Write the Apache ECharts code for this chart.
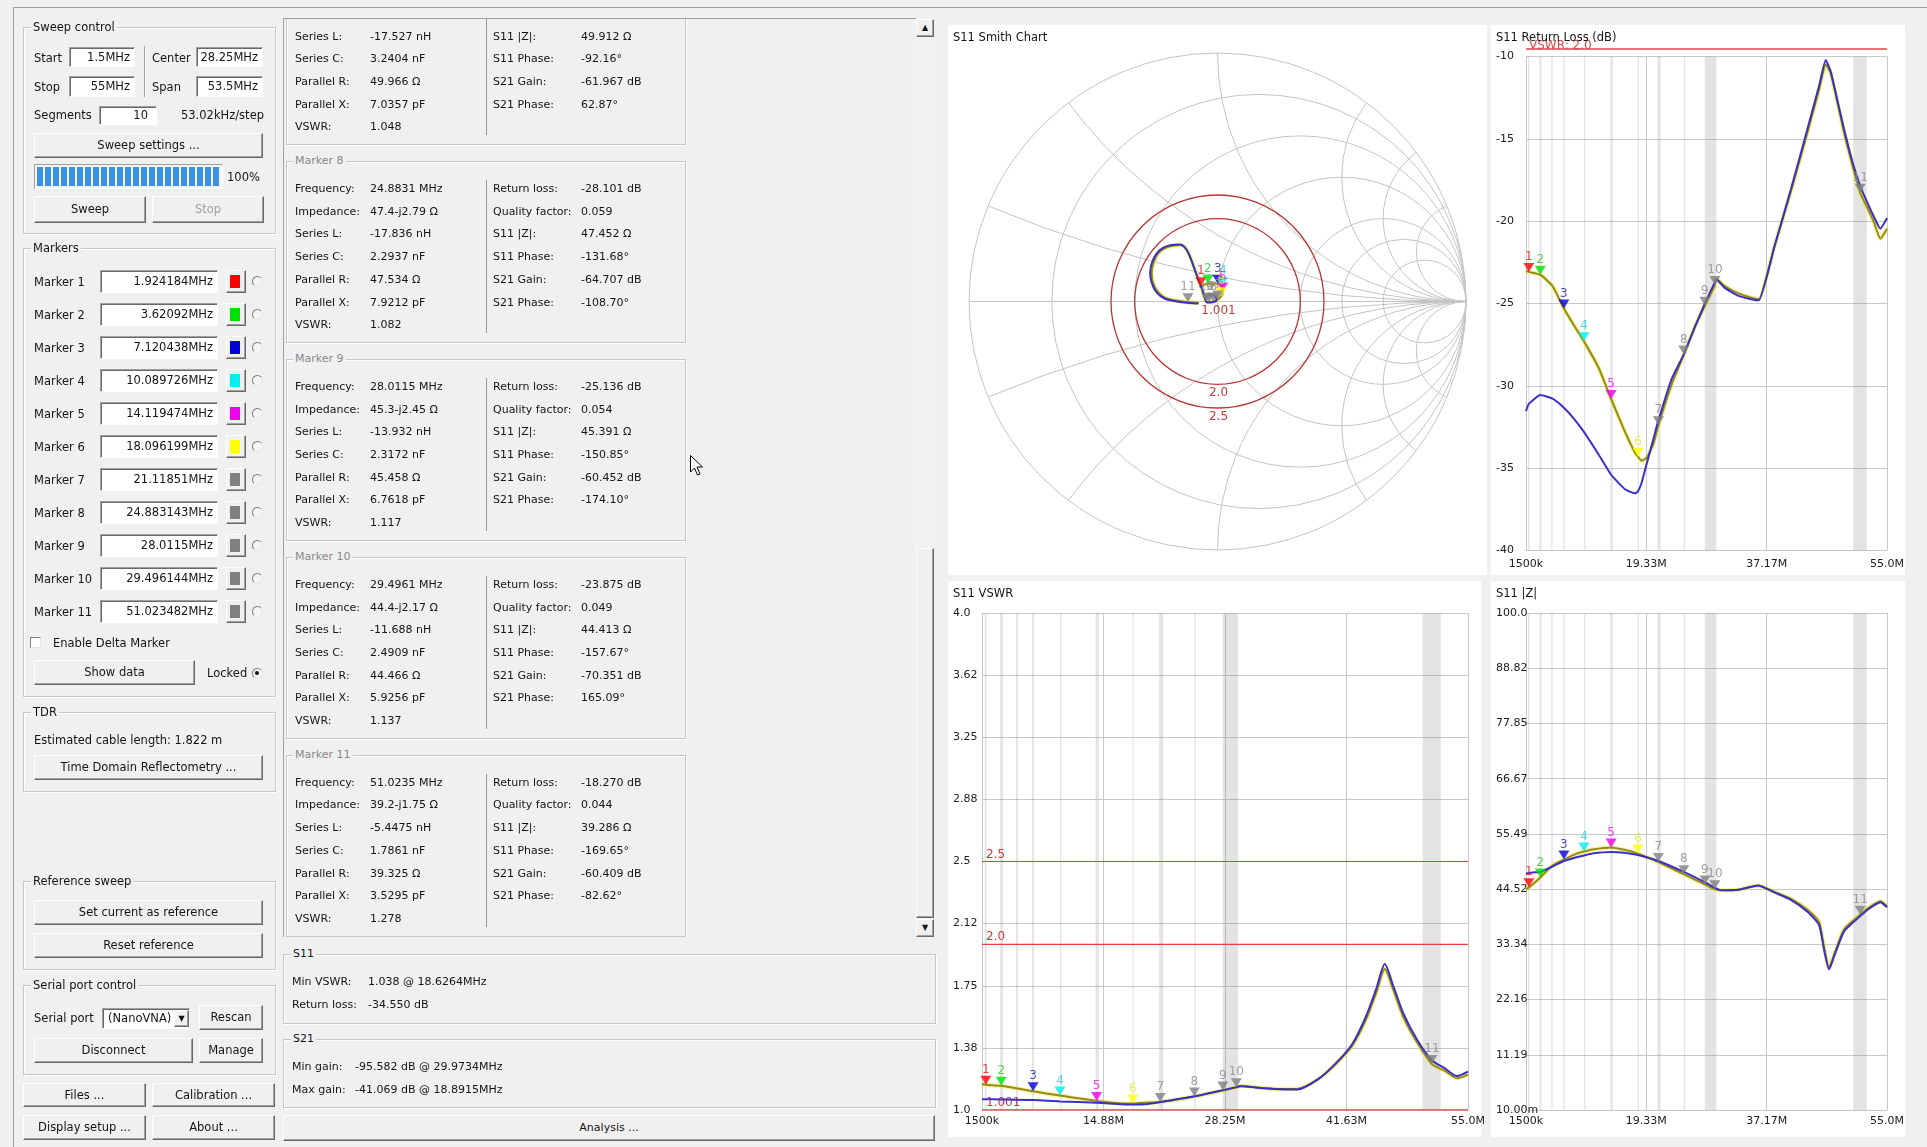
<!DOCTYPE html>
<html><head><meta charset="utf-8"><title>NanoVNA-Saver</title>
<script src="https://cdn.jsdelivr.net/npm/echarts@6.0.0/dist/echarts.min.js"></script>
<style>
html,body{margin:0;padding:0;width:1927px;height:1147px;overflow:hidden;background:#f0f0f0;}
#bg,#chart,#ui{position:absolute;left:0;top:0;width:1927px;height:1147px;}
#bg{z-index:0}#chart{z-index:1}#ui{z-index:2;pointer-events:none;font-family:"DejaVu Sans",Verdana,sans-serif;font-size:11.5px;color:#141414;}
.pn{position:absolute;background:#fff;}
.t{position:absolute;white-space:nowrap;line-height:16px;height:16px;}
.grp{position:absolute;border:1px solid #c6c6c6;box-shadow:inset 1px 1px 0 #fff,1px 1px 0 #fff;}
.gt{position:absolute;background:#f0f0f0;padding:0 2px;line-height:14px;white-space:nowrap;}
.btn{position:absolute;box-sizing:border-box;background:#f0f0f0;border:1px solid;border-color:#fff #696969 #696969 #fff;box-shadow:inset -1px -1px 0 #a0a0a0;text-align:center;white-space:nowrap;}
.inp{position:absolute;box-sizing:border-box;background:#fff;border:1px solid;border-color:#a0a0a0 #fff #fff #a0a0a0;box-shadow:inset 1px 1px 0 #696969;text-align:right;padding-right:4px;white-space:nowrap;}
.rad{position:absolute;width:11px;height:11px;box-sizing:border-box;border-radius:50%;border:1px solid;border-color:#808080 #e6e6e6 #e6e6e6 #808080;background:#f4f4f4;}
.line{position:absolute;background:#a0a0a0;}
.mid{font-size:11px;}
</style></head>
<body>
<div id="bg"></div>
<div id="chart"></div>
<div id="ui"></div>
<script>
// ======================= DATA =======================
const fStart = 1.5, fStop = 55.0;                      // MHz
const rlXLabels   = ['1500k', '19.33M', '37.17M', '55.0M'];
const zXLabels    = ['1500k', '19.33M', '37.17M', '55.0M'];
const vswrXLabels = ['1500k', '14.88M', '28.25M', '41.63M', '55.0M'];
const rlYMin = -40, rlYMax = -10, rlYStep = 5;
const vswrYLabels = ['1.0', '1.38', '1.75', '2.12', '2.5', '2.88', '3.25', '3.62', '4.0'];
const vswrYMin = 1.0, vswrYMax = 4.0;
const zYLabels = ['10.00m', '11.19', '22.16', '33.34', '44.52', '55.49', '66.67', '77.85', '88.82', '100.0'];
const zYMin = 0.01, zYMax = 100.0;

const markerNames    = ['Marker 1','Marker 2','Marker 3','Marker 4','Marker 5','Marker 6','Marker 7','Marker 8','Marker 9','Marker 10','Marker 11'];
const markerFreqText = ['1.924184MHz','3.62092MHz','7.120438MHz','10.089726MHz','14.119474MHz','18.096199MHz','21.11851MHz','24.883143MHz','28.0115MHz','29.496144MHz','51.023482MHz'];
const markerFreqMHz  = [1.924184, 3.62092, 7.120438, 10.089726, 14.119474, 18.096199, 21.11851, 24.883143, 28.0115, 29.496144, 51.023482];
const markerColors     = ['#ff0000','#00e000','#0000d8','#00eeee','#ee00ee','#ffff00','#808080','#808080','#808080','#808080','#808080'];
const markerTextColors = ['#e02020','#30c030','#1a1aa0','#20d0d0','#e020e0','#e8e830','#8a8a8a','#8a8a8a','#8a8a8a','#8a8a8a','#8a8a8a'];

const hamBands = [[1.8,2.0],[3.5,3.8],[5.25,5.45],[7.0,7.2],[10.1,10.15],[14.0,14.35],[18.068,18.168],[21.0,21.45],[24.89,24.99],[28.0,29.7],[50.0,52.0]];

const vswrRefValues = [1.001, 2.0, 2.5];
const vswrRefLabels = ['1.001', '2.0', '2.5'];
const rlVswrRefValues = [2.0];
const rlVswrRefLabels = ['VSWR: 2.0'];

const smithResistances = [0, 0.2, 0.5, 1, 2, 3, 5];
const smithReactances  = [0, 0.2, -0.2, 0.5, -0.5, 1, -1, 2, -2, 3, -3, 5, -5];

// S11 on Smith chart (reflection coefficient, re / im as drawn)
const smithFreq    = [1.5, 1.924, 3.621, 7.120, 10.090, 14.119, 18.096, 21.119, 24.883, 28.012, 29.496, 33, 36, 43.5, 44.5, 45.3, 46, 46.7, 47.5, 48.3, 49.2, 50, 50.5, 51.023, 53, 55];
const smithSweepRe = [-0.072,-0.067,-0.039,0.001,0.021,0.021,0.015,0.001,-0.017,-0.033,-0.044,-0.055,-0.065,-0.148,-0.181,-0.215,-0.241,-0.257,-0.265,-0.260,-0.241,-0.208,-0.161,-0.119,-0.088,-0.075];
const smithSweepIm = [0.058,0.061,0.071,0.071,0.061,0.040,0.021,0.008,0.000,-0.003,-0.001,0.024,0.057,0.227,0.224,0.213,0.191,0.157,0.117,0.077,0.040,0.013,0.003,-0.003,-0.005,-0.005];
const smithRefRe   = [-0.031,-0.030,-0.025,-0.015,-0.007,-0.004,-0.007,-0.015,-0.023,-0.033,-0.043,-0.053,-0.064,-0.151,-0.185,-0.219,-0.245,-0.263,-0.271,-0.265,-0.245,-0.211,-0.164,-0.121,-0.089,-0.077];
const smithRefIm   = [0.027,0.027,0.027,0.024,0.017,0.008,0.001,-0.001,-0.003,-0.004,-0.003,0.023,0.056,0.229,0.227,0.216,0.193,0.159,0.117,0.076,0.037,0.011,0.000,-0.005,-0.008,-0.008];

// S11 return loss (dB)
const rlFreq  = [1.5,1.92,3.62,5.43,7.12,8.62,10.09,12.30,14.12,16.22,17.70,18.10,18.63,19.41,20.40,21.12,23.10,24.88,26.53,28.01,29.50,29.70,30.95,32.91,34.88,36.00,38.31,40.76,43.22,44.94,45.92,46.66,47.64,48.62,49.84,51.02,52.05,53.03,54.02,55.00];
const rlSweep = [-23.03,-23.08,-23.25,-23.94,-25.30,-26.33,-27.30,-28.93,-30.80,-32.84,-34.10,-34.30,-34.55,-34.36,-33.49,-32.40,-29.90,-28.10,-26.40,-25.14,-23.88,-23.50,-23.94,-24.37,-24.65,-24.74,-21.55,-18.18,-14.60,-12.00,-10.48,-11.02,-12.76,-14.60,-16.56,-18.27,-19.16,-20.03,-21.07,-20.46];
const rlRef   = [-31.54,-31.10,-30.56,-30.78,-31.33,-32.00,-32.80,-34.20,-35.40,-36.30,-36.53,-36.40,-35.90,-34.70,-33.20,-32.10,-29.58,-28.10,-26.43,-25.00,-23.70,-23.55,-24.05,-24.52,-24.74,-24.81,-21.55,-18.08,-14.39,-11.78,-10.22,-10.91,-12.65,-14.39,-16.34,-17.85,-18.84,-19.70,-20.46,-19.81];

// S11 VSWR
const vswrFreq  = [1.5,1.92,3.62,7.12,10.09,14.12,16.9,18.10,19.36,21.12,24.88,28.01,29.50,29.95,31.66,33.55,36.2,38.47,40.36,42.25,43.76,44.9,45.84,46.79,47.92,49.44,51.02,52.46,53.79,55.0];
const vswrSweep = [1.157,1.152,1.146,1.113,1.087,1.055,1.040,1.039,1.044,1.048,1.082,1.117,1.137,1.146,1.137,1.129,1.127,1.185,1.273,1.388,1.545,1.709,1.851,1.724,1.556,1.404,1.278,1.236,1.192,1.214];
const vswrRef   = [1.065,1.065,1.064,1.060,1.052,1.044,1.034,1.033,1.034,1.048,1.083,1.120,1.138,1.144,1.135,1.127,1.124,1.185,1.277,1.397,1.563,1.731,1.881,1.746,1.578,1.419,1.300,1.251,1.205,1.231];

// S11 |Z| (ohm)
const zFreq  = [1.5,1.92,2.48,3.62,5.43,7.12,8.86,10.09,11.32,14.12,16.22,18.10,21.12,24.88,28.01,29.50,30.46,32.91,35.86,38.31,40.76,43.22,44.94,45.67,46.41,47.15,48.62,50.58,51.02,52.05,54.02,55.0];
const zSweep = [44.4,44.8,45.4,46.8,49.2,50.4,51.5,52.0,52.4,52.8,52.3,51.6,49.91,47.45,45.39,44.41,44.2,44.3,45.2,43.9,42.5,40.3,37.8,32.7,28.7,31.2,36.3,38.8,39.29,40.5,42.0,41.0];
const zRef   = [47.6,47.7,47.8,47.9,49.0,50.1,50.8,51.2,51.6,51.9,51.7,51.3,50.1,47.9,45.8,44.7,44.2,44.3,45.2,43.8,42.3,39.9,37.2,32.3,28.3,30.9,35.9,38.5,39.0,40.2,41.8,40.8];

// Marker detail panel (text)
const detailTitles = ['Marker 7','Marker 8','Marker 9','Marker 10','Marker 11'];
const detailLeftLabels  = ['Frequency:','Impedance:','Series L:','Series C:','Parallel R:','Parallel X:','VSWR:'];
const detailRightLabels = ['Return loss:','Quality factor:','S11 |Z|:','S11 Phase:','S21 Gain:','S21 Phase:'];
const detailLeftValues = [
  [null, null, '-17.527 nH', '3.2404 nF', '49.966 Ω', '7.0357 pF', '1.048'],
  ['24.8831 MHz', '47.4-j2.79 Ω', '-17.836 nH', '2.2937 nF', '47.534 Ω', '7.9212 pF', '1.082'],
  ['28.0115 MHz', '45.3-j2.45 Ω', '-13.932 nH', '2.3172 nF', '45.458 Ω', '6.7618 pF', '1.117'],
  ['29.4961 MHz', '44.4-j2.17 Ω', '-11.688 nH', '2.4909 nF', '44.466 Ω', '5.9256 pF', '1.137'],
  ['51.0235 MHz', '39.2-j1.75 Ω', '-5.4475 nH', '1.7861 nF', '39.325 Ω', '3.5295 pF', '1.278']
];
const detailRightValues = [
  [null, null, '49.912 Ω', '-92.16°', '-61.967 dB', '62.87°'],
  ['-28.101 dB', '0.059', '47.452 Ω', '-131.68°', '-64.707 dB', '-108.70°'],
  ['-25.136 dB', '0.054', '45.391 Ω', '-150.85°', '-60.452 dB', '-174.10°'],
  ['-23.875 dB', '0.049', '44.413 Ω', '-157.67°', '-70.351 dB', '165.09°'],
  ['-18.270 dB', '0.044', '39.286 Ω', '-169.65°', '-60.409 dB', '-82.62°']
];
const s11Summary = [['Min VSWR:', '1.038 @ 18.6264MHz'], ['Return loss:', '-34.550 dB']];
const s21Summary = [['Min gain:', '-95.582 dB @ 29.9734MHz'], ['Max gain:', '-41.069 dB @ 18.8915MHz']];

// ======================= UI (widgets) =======================
(function buildUI() {
  let h = '';
  const T = (x, yc, txt, ex = '') => { h += `<div class="t" style="left:${x}px;top:${yc - 8}px;${ex}">${txt}</div>`; };
  const BTN = (x1, y1, x2, y2, txt, ex = '') => { h += `<div class="btn" style="left:${x1}px;top:${y1}px;width:${x2 - x1}px;height:${y2 - y1}px;line-height:${y2 - y1 - 2}px;${ex}">${txt}</div>`; };
  const INP = (x1, y1, x2, y2, txt, ex = '') => { h += `<div class="inp" style="left:${x1}px;top:${y1}px;width:${x2 - x1}px;height:${y2 - y1}px;line-height:${y2 - y1 - 2}px;${ex}">${txt}</div>`; };
  const GRP = (x1, y1, x2, y2, title, ex = '') => { h += `<div class="grp" style="left:${x1}px;top:${y1}px;width:${x2 - x1}px;height:${y2 - y1}px"></div><div class="gt" style="left:${x1 + 8}px;top:${y1 - 7}px;${ex}">${title}</div>`; };
  const RAD = (cx, cy, on) => { h += `<div class="rad" style="left:${cx - 5.5}px;top:${cy - 5.5}px">${on ? '<div style="position:absolute;left:2.5px;top:2.5px;width:4px;height:4px;border-radius:50%;background:#111"></div>' : ''}</div>`; };

  // outer frame
  h += `<div class="line" style="left:13px;top:7px;width:1914px;height:1px"></div>`;
  h += `<div class="line" style="left:13px;top:7px;width:1px;height:1140px"></div>`;

  // Sweep control
  GRP(23, 27, 274, 232, 'Sweep control');
  T(34, 58, 'Start'); INP(69, 47, 135, 67, '1.5MHz');
  h += `<div class="line" style="left:144px;top:46px;width:1px;height:51px"></div><div style="position:absolute;left:145px;top:46px;width:1px;height:51px;background:#fff"></div>`;
  T(152, 58, 'Center'); INP(196, 47, 263, 67, '28.25MHz');
  T(34, 87, 'Stop'); INP(69, 76, 135, 97, '55MHz');
  T(152, 87, 'Span'); INP(196, 76, 263, 97, '53.5MHz');
  T(34, 115, 'Segments'); INP(99, 106, 157, 125, '10', 'padding-right:8px');
  T(160, 115, '53.02kHz/step', 'width:104px;text-align:right');
  BTN(34, 133, 263, 158, 'Sweep settings ...');
  h += `<div style="position:absolute;left:34px;top:164px;width:189px;height:25px;box-sizing:border-box;border:1px solid;border-color:#a0a0a0 #fff #fff #a0a0a0;background:#f4f4f4;padding:2px">
        <div style="width:100%;height:100%;background:repeating-linear-gradient(90deg,#3a8fe6 0 6px,transparent 6px 8px)"></div></div>`;
  T(227, 177, '100%');
  BTN(34, 196, 146, 223, 'Sweep'); BTN(152, 196, 264, 223, 'Stop', 'color:#a0a0a0');

  // Markers
  GRP(23, 248, 274, 695, 'Markers');
  markerNames.forEach((nm, i) => {
    const yc = 281.7 + 33 * i;
    T(34, yc, nm);
    INP(100, yc - 11.5, 218, yc + 11.5, markerFreqText[i]);
    h += `<div class="btn" style="left:226px;top:${yc - 11.5}px;width:20px;height:23px"></div>`;
    h += `<div style="position:absolute;left:230px;top:${yc - 7}px;width:10px;height:13px;background:${markerColors[i]}"></div>`;
    RAD(257, yc, false);
  });
  h += `<div style="position:absolute;left:30px;top:637px;width:11px;height:11px;box-sizing:border-box;border:1px solid;border-color:#808080 #e6e6e6 #e6e6e6 #808080;background:#fff"></div>`;
  T(53, 643, 'Enable Delta Marker');
  BTN(34, 660, 195, 685, 'Show data');
  T(207, 673, 'Locked'); RAD(257, 673, true);

  // TDR
  GRP(23, 712, 274, 790, 'TDR');
  T(34, 740, 'Estimated cable length: 1.822 m');
  BTN(34, 755, 263, 780, 'Time Domain Reflectometry ...');

  // Reference sweep
  GRP(23, 881, 274, 968, 'Reference sweep');
  BTN(34, 900, 263, 925, 'Set current as reference');
  BTN(34, 933, 263, 958, 'Reset reference');

  // Serial port
  GRP(23, 985, 274, 1073, 'Serial port control');
  T(34, 1018, 'Serial port');
  h += `<div class="inp" style="left:102px;top:1008px;width:88px;height:21px;line-height:19px;text-align:left;padding-left:5px">(NanoVNA)</div>`;
  h += `<div class="btn" style="left:174px;top:1010px;width:15px;height:17px;line-height:15px;font-size:8px">&#9660;</div>`;
  BTN(199, 1005, 263, 1030, 'Rescan');
  BTN(34, 1038, 193, 1063, 'Disconnect');
  BTN(199, 1038, 263, 1063, 'Manage');
  BTN(23, 1083, 146, 1107, 'Files ...');
  BTN(152, 1083, 275, 1107, 'Calibration ...');
  BTN(23, 1115, 146, 1140, 'Display setup ...');
  BTN(152, 1115, 275, 1140, 'About ...');

  // ---- middle: marker details (scroll area) ----
  const OX = 283, OY = 18;
  let m = '';
  const MT = (x, yc, txt, ex = '') => { m += `<div class="t" style="left:${x - OX}px;top:${yc - 8 - OY}px;${ex}">${txt}</div>`; };
  detailTitles.forEach((title, k) => {
    const ty = -38.1 + 197.9 * k;
    m += `<div class="grp" style="left:${285 - OX}px;top:${ty - OY}px;width:398px;height:180px"></div>`;
    m += `<div class="gt" style="left:${292 - OX}px;top:${ty - 7 - OY}px;color:#8a8a8a">${title}</div>`;
    m += `<div style="position:absolute;left:${485 - OX}px;top:${ty + 19 - OY}px;width:1px;height:153px;background:#9a9a9a"></div>`;
    detailLeftLabels.forEach((lab, r) => {
      const v = detailLeftValues[k][r];
      if (v === null) return;
      const yc = ty + 28.3 + 22.68 * r;
      MT(294, yc, lab); MT(369, yc, v);
    });
    detailRightLabels.forEach((lab, r) => {
      const v = detailRightValues[k][r];
      if (v === null) return;
      const yc = ty + 28.3 + 22.68 * r;
      MT(492, yc, lab); MT(580, yc, v);
    });
  });
  h += `<div class="mid" style="position:absolute;left:${OX}px;top:${OY}px;width:633px;height:919px;overflow:hidden;border-left:1px solid #a0a0a0;border-top:1px solid #a0a0a0;box-sizing:border-box">${m}</div>`;
  // scrollbar
  h += `<div style="position:absolute;left:916px;top:18px;width:18px;height:919px;background:repeating-conic-gradient(#f7f7f7 0 25%,#ececec 0 50%) 0 0/2px 2px"></div>`;
  h += `<div class="btn" style="left:916px;top:548px;width:18px;height:370px"></div>`;
  h += `<div class="btn" style="left:916px;top:19px;width:18px;height:18px;line-height:16px;font-size:8px">&#9650;</div>`;
  h += `<div class="btn" style="left:916px;top:919px;width:18px;height:18px;line-height:16px;font-size:8px">&#9660;</div>`;

  // S11 / S21 summaries
  GRP(283, 954, 934, 1022, 'S11', 'font-size:11px');
  s11Summary.forEach((r, i) => { T(292, 982 + 22.7 * i, r[0], 'font-size:11px'); T(368, 982 + 22.7 * i, r[1], 'font-size:11px'); });
  GRP(283, 1039, 934, 1106, 'S21', 'font-size:11px');
  s21Summary.forEach((r, i) => { T(292, 1067 + 22.5 * i, r[0], 'font-size:11px'); T(355, 1067 + 22.5 * i, r[1], 'font-size:11px'); });
  BTN(283, 1115, 935, 1141, 'Analysis ...', 'font-size:11px');

  // mouse cursor
  h += `<svg style="position:absolute;left:690px;top:455px" width="14" height="22" viewBox="0 0 14 22"><path d="M0.5 0.5 L0.5 17 L4.5 13 L7.5 20 L10 19 L7 12 L12.5 12 Z" fill="#fff" stroke="#000" stroke-width="1"/></svg>`;

  document.getElementById('ui').innerHTML = h;

  // white chart panels
  const panels = [[948, 25, 1487, 575], [1491, 25, 1905, 575], [948, 581, 1481, 1137], [1491, 581, 1905, 1137]];
  document.getElementById('bg').innerHTML = panels.map(p => `<div class="pn" style="left:${p[0]}px;top:${p[1]}px;width:${p[2] - p[0]}px;height:${p[3] - p[1]}px"></div>`).join('');
})();

// ======================= CHARTS =======================
const FONT = 'DejaVu Sans';
const GRIDC = '#c8c8c8';
const SMITHC = '#c4c4c4';
const REDLINE = '#e04040';
const OLIVE = '#968b1e', HALO = 'rgba(236,230,40,0.45)', BLUE = '#3a30c8';

const xT = (labels) => (f) => (f - fStart) / (fStop - fStart) * (labels.length - 1);
const rlX = xT(rlXLabels), zX = xT(zXLabels), vX = xT(vswrXLabels);
const rlY = (v) => v;
const vY = (v) => (v - vswrYMin) / ((vswrYMax - vswrYMin) / (vswrYLabels.length - 1));
const zY = (v) => (v - zYMin) / ((zYMax - zYMin) / (zYLabels.length - 1));
const nearestIdx = (arr, v) => arr.reduce((b, x, i) => Math.abs(x - v) < Math.abs(arr[b] - v) ? i : b, 0);

function freqAxis(gi, labels, margin) {
  return {type: 'value', gridIndex: gi, min: 0, max: labels.length - 1, interval: 1,
    axisLine: {show: false}, axisTick: {show: false},
    splitLine: {show: true, lineStyle: {color: GRIDC, width: 1}},
    axisLabel: {formatter: (v) => labels[Math.round(v)] ?? '', color: '#202020', fontSize: 11, fontFamily: FONT, margin}};
}
function idxAxis(gi, labels, margin) {
  return {type: 'value', gridIndex: gi, min: 0, max: labels.length - 1, interval: 1,
    axisLine: {show: false}, axisTick: {show: false},
    splitLine: {show: true, lineStyle: {color: GRIDC, width: 1}},
    axisLabel: {formatter: (v) => labels[Math.round(v)] ?? '', color: '#202020', fontSize: 11, fontFamily: FONT, align: 'left', margin}};
}

function traceSeries(freqs, vals, fx, fy) {
  return freqs.map((f, i) => [fx(f), fy(vals[i])]);
}
function lineTriple(gi, sweepData, refData, smooth) {
  const base = {type: 'line', xAxisIndex: gi, yAxisIndex: gi, showSymbol: false, symbol: 'none', silent: true, smooth, clip: false, animation: false};
  return [
    Object.assign({}, base, {data: sweepData, z: 3, lineStyle: {color: HALO, width: 4.5}}),
    Object.assign({}, base, {data: sweepData, z: 4, lineStyle: {color: OLIVE, width: 2}}),
    Object.assign({}, base, {data: refData, z: 5, lineStyle: {color: BLUE, width: 2}})
  ];
}
function markerSeries(gi, points) {
  return {type: 'scatter', xAxisIndex: gi, yAxisIndex: gi, z: 10, silent: true, animation: false,
    symbol: 'triangle', symbolRotate: 180, symbolSize: [11, 9], symbolOffset: [0, -4.5],
    data: points.map((p, i) => ({name: String(i + 1), value: p, itemStyle: {color: markerColors[i]}, label: {color: markerTextColors[i]}})),
    label: {show: true, position: 'top', distance: 0, formatter: '{b}', fontSize: 12, fontFamily: FONT}};
}
function bandSeries(gi, fx) {
  return {type: 'custom', xAxisIndex: gi, yAxisIndex: gi, z: 1, silent: true, animation: false,
    encode: {x: [0, 1], y: 0},
    data: hamBands.map(b => [fx(b[0]), fx(b[1])]),
    renderItem: (params, api) => {
      const cs = params.coordSys;
      const a = api.coord([api.value(0), 0])[0], b = api.coord([api.value(1), 0])[0];
      return {type: 'rect', shape: {x: a, y: cs.y, width: Math.max(b - a, 1.2), height: cs.height},
        style: {fill: 'rgba(128,128,128,0.22)'}};
    }};
}
function refLineSeries(gi, values, labels, fy, xMax) {
  return {type: 'custom', xAxisIndex: gi, yAxisIndex: gi, z: 2, silent: true, animation: false,
    encode: {x: 0, y: 0}, data: values.map(v => [v]),
    renderItem: (params, api) => {
      const yv = fy(api.value(0));
      const a = api.coord([0, yv]), b = api.coord([xMax, yv]);
      return {type: 'group', children: [
        {type: 'line', shape: {x1: a[0], y1: a[1], x2: b[0], y2: b[1]}, style: {stroke: REDLINE, lineWidth: 1.2}},
        {type: 'text', style: {text: labels[params.dataIndex], x: a[0] + 4, y: a[1] - 1, align: 'left', verticalAlign: 'bottom', fill: '#d03838', font: `12px "${FONT}"`}}
      ]};
    }};
}

// Smith grid renderers
function renderR(params, api) {
  const r = api.value(0);
  const c = api.coord([r / (1 + r), 0]);
  const rad = api.size([1 / (1 + r), 0])[0];
  return {type: 'circle', shape: {cx: c[0], cy: c[1], r: rad}, style: {fill: 'none', stroke: SMITHC, lineWidth: 1}};
}
function renderX(params, api) {
  const x = api.value(0);
  if (x === 0) {
    const a = api.coord([-1, 0]), b = api.coord([1, 0]);
    return {type: 'line', shape: {x1: a[0], y1: a[1], x2: b[0], y2: b[1]}, style: {stroke: SMITHC, lineWidth: 1}};
  }
  const c = api.coord([1, 1 / x]);
  const rad = api.size([1 / Math.abs(x), 0])[0];
  const x2 = x * x;
  const p = api.coord([(x2 - 1) / (x2 + 1), 2 * x / (x2 + 1)]);
  let a = Math.atan2(p[1] - c[1], p[0] - c[0]);
  let start, cw;
  if (x > 0) { start = Math.PI / 2; while (a < start) a += 2 * Math.PI; cw = true; }
  else { start = -Math.PI / 2; while (a > start) a -= 2 * Math.PI; cw = false; }
  return {type: 'arc', shape: {cx: c[0], cy: c[1], r: rad, startAngle: start, endAngle: a, clockwise: cw}, style: {fill: 'none', stroke: SMITHC, lineWidth: 1}};
}
function renderVswrCircle(params, api) {
  const s = api.value(0);
  const g = (s - 1) / (s + 1);
  const c = api.coord([0, 0]);
  const rad = api.size([g, 0])[0];
  return {type: 'group', children: [
    {type: 'circle', shape: {cx: c[0], cy: c[1], r: rad}, style: {fill: 'none', stroke: '#b83434', lineWidth: 1.3}},
    {type: 'text', style: {text: vswrRefLabels[params.dataIndex], x: c[0] + 1, y: c[1] + rad + 3, align: 'center', verticalAlign: 'top', fill: '#c23a3a', font: `12px "${FONT}"`}}
  ]};
}

// data assembly
const smithSweepData = smithFreq.map((f, i) => [smithSweepRe[i], smithSweepIm[i]]);
const smithRefData = smithFreq.map((f, i) => [smithRefRe[i], smithRefIm[i]]);
const smithMarkers = markerFreqMHz.map(mf => { const k = nearestIdx(smithFreq, mf); return [smithSweepRe[k], smithSweepIm[k]]; });

const rlSweepData = traceSeries(rlFreq, rlSweep, rlX, rlY);
const rlRefData = traceSeries(rlFreq, rlRef, rlX, rlY);
const rlMarkers = markerFreqMHz.map(mf => [rlX(mf), rlY(rlSweep[nearestIdx(rlFreq, mf)])]);
const rlFromVswr = (s) => 20 * Math.log10((s - 1) / (s + 1));

const vSweepData = traceSeries(vswrFreq, vswrSweep, vX, vY);
const vRefData = traceSeries(vswrFreq, vswrRef, vX, vY);
const vMarkers = markerFreqMHz.map(mf => [vX(mf), vY(vswrSweep[nearestIdx(vswrFreq, mf)])]);

const zSweepData = traceSeries(zFreq, zSweep, zX, zY);
const zRefData = traceSeries(zFreq, zRef, zX, zY);
const zMarkers = markerFreqMHz.map(mf => [zX(mf), zY(zSweep[nearestIdx(zFreq, mf)])]);

const titleStyle = {fontSize: 11.5, fontWeight: 'normal', color: '#141414', fontFamily: FONT};
const option = {
  animation: false,
  backgroundColor: 'transparent',
  textStyle: {fontFamily: FONT},
  title: [
    {text: 'S11 Smith Chart', left: 953, top: 32, padding: 0, textStyle: titleStyle},
    {text: 'S11 Return Loss (dB)', left: 1496, top: 32, padding: 0, textStyle: titleStyle},
    {text: 'S11 VSWR', left: 953, top: 588, padding: 0, textStyle: titleStyle},
    {text: 'S11 |Z|', left: 1496, top: 588, padding: 0, textStyle: titleStyle}
  ],
  grid: [
    {left: 969, top: 53, width: 497, height: 497},
    {left: 1526, top: 56.5, width: 361, height: 494},
    {left: 982, top: 613, width: 486, height: 497},
    {left: 1526, top: 613, width: 361, height: 497}
  ],
  xAxis: [
    {type: 'value', gridIndex: 0, min: -1, max: 1, show: false},
    freqAxis(1, rlXLabels, 8),
    freqAxis(2, vswrXLabels, 6),
    freqAxis(3, zXLabels, 6)
  ],
  yAxis: [
    {type: 'value', gridIndex: 0, min: -1, max: 1, show: false},
    {type: 'value', gridIndex: 1, min: rlYMin, max: rlYMax, interval: rlYStep,
      axisLine: {show: false}, axisTick: {show: false},
      splitLine: {show: true, lineStyle: {color: GRIDC, width: 1}},
      axisLabel: {color: '#202020', fontSize: 11, fontFamily: FONT, align: 'left', margin: 30}},
    idxAxis(2, vswrYLabels, 29),
    idxAxis(3, zYLabels, 30)
  ],
  series: [
    // Smith chart
    {type: 'custom', xAxisIndex: 0, yAxisIndex: 0, z: 1, silent: true, encode: {x: 0, y: 0}, data: smithResistances.map(r => [r]), renderItem: renderR},
    {type: 'custom', xAxisIndex: 0, yAxisIndex: 0, z: 1, silent: true, encode: {x: 0, y: 0}, data: smithReactances.map(x => [x]), renderItem: renderX},
    {type: 'custom', xAxisIndex: 0, yAxisIndex: 0, z: 2, silent: true, encode: {x: 0, y: 0}, data: vswrRefValues.map(v => [v]), renderItem: renderVswrCircle},
    ...lineTriple(0, smithSweepData, smithRefData, 0.35),
    markerSeries(0, smithMarkers),
    // Return loss
    bandSeries(1, rlX),
    {type: 'custom', xAxisIndex: 1, yAxisIndex: 1, z: 2, silent: true, encode: {x: 0, y: 0}, data: rlVswrRefValues.map(v => [v]),
      renderItem: (params, api) => {
        const yv = rlFromVswr(api.value(0));
        const a = api.coord([0, yv]), b = api.coord([rlXLabels.length - 1, yv]);
        return {type: 'group', children: [
          {type: 'line', shape: {x1: a[0], y1: a[1], x2: b[0], y2: b[1]}, style: {stroke: REDLINE, lineWidth: 1.5}},
          {type: 'text', style: {text: rlVswrRefLabels[params.dataIndex], x: a[0] + 3, y: a[1] + 3, align: 'left', verticalAlign: 'bottom', fill: '#d84848', font: `12px "${FONT}"`}}
        ]};
      }},
    ...lineTriple(1, rlSweepData, rlRefData, 0.15),
    markerSeries(1, rlMarkers),
    // VSWR
    bandSeries(2, vX),
    refLineSeries(2, vswrRefValues, vswrRefLabels, vY, vswrXLabels.length - 1),
    ...lineTriple(2, vSweepData, vRefData, 0.25),
    markerSeries(2, vMarkers),
    // |Z|
    bandSeries(3, zX),
    ...lineTriple(3, zSweepData, zRefData, 0.2),
    markerSeries(3, zMarkers)
  ]
};
const chart = echarts.init(document.getElementById('chart'), null, {renderer: 'canvas', width: 1927, height: 1147});
chart.setOption(option);
</script>
</body></html>
